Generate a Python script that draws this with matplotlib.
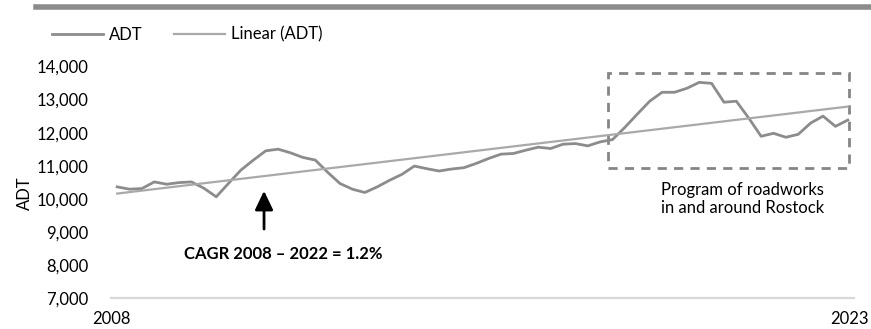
import numpy as np
import matplotlib
matplotlib.use("Agg")
import matplotlib.pyplot as plt
import matplotlib.transforms as mtrans
from matplotlib.lines import Line2D
from matplotlib.patches import Rectangle

plt.rcParams['font.family'] = ['Lato', 'DejaVu Sans']

# quarterly ADT, 2008 Q1 .. 2022 Q4
adt = [10360, 10290, 10310, 10510, 10440, 10490, 10510, 10320, 10060, 10470,
       10870, 11170, 11450, 11500, 11390, 11250, 11170, 10800, 10460, 10290,
       10190, 10360, 10560, 10740, 10990, 10910, 10840, 10900, 10940, 11070,
       11220, 11350, 11370, 11470, 11560, 11520, 11650, 11670, 11600, 11720,
       11790, 12160, 12560, 12950, 13220, 13220, 13340, 13520, 13490, 12920,
       12950, 12440, 11890, 11980, 11860, 11950, 12290, 12500, 12190, 12380]
first_year = 2008
last_year = 2023
y_ticks = [7000, 8000, 9000, 10000, 11000, 12000, 13000, 14000]

x = first_year + (np.arange(len(adt)) + 0.5) / 4
slope, intercept = np.polyfit(x, adt, 1)
trend = slope * x + intercept

fs = 12

fig = plt.figure(figsize=(8.71, 3.29), dpi=100)
ax = fig.add_axes([0.1274, 0.0942, 0.8531, 0.7037])

ax.plot(x, adt, color='#8c8c8c', lw=2.0, label='ADT', solid_joinstyle='round')
ax.plot(x, trend, color='#a9a9a9', lw=1.6, label='Linear (ADT)')

ax.set_xlim(first_year, last_year)
ax.set_ylim(7000, 14000)
ax.set_yticks(y_ticks)
ax.set_yticklabels([f"{v:,}" for v in y_ticks])
ax.set_xticks([first_year, last_year])
ax.set_xticklabels([str(first_year), str(last_year)])
ax.tick_params(axis='y', length=0, pad=16, labelsize=fs)
ax.tick_params(axis='x', length=0, pad=9, labelsize=fs)
for s in ['top', 'right', 'left']:
    ax.spines[s].set_visible(False)
ax.spines['bottom'].set_color('#d9d9d9')
ax.spines['bottom'].set_linewidth(1.6)

# keep "2023" inside the picture
last_lbl = ax.get_xticklabels()[-1]
last_lbl.set_transform(last_lbl.get_transform() +
                       mtrans.ScaledTranslation(-5 / 100, 0, fig.dpi_scale_trans))

ax.set_ylabel('ADT', fontsize=fs)
ax.yaxis.set_label_coords(-0.105, 0.454)

# roadworks box
box = Rectangle((2018.03, 10917), 2022.9 - 2018.03, 13804 - 10917, fill=False,
                edgecolor='#858585', lw=2, linestyle=(0, (3.3, 2.6)))
ax.add_patch(box)
ax.text(2020.74, 9990, 'Program of roadworks\nin and around Rostock',
        ha='center', va='center', fontsize=fs, linespacing=1.15)

# CAGR arrow + label
ax.annotate('', xy=(2011.09, 10240), xytext=(2011.09, 9084),
            arrowprops=dict(arrowstyle='-|>,head_width=0.55,head_length=1.15',
                            color='black', lw=2, shrinkA=0, shrinkB=0,
                            mutation_scale=10))
ax.text(2011.47, 8329, 'CAGR 2008 – 2022 = 1.2%', ha='center', va='center',
        fontsize=fs, fontweight='bold')

# legend
fig.legend(handles=ax.get_lines(), loc='center left',
           bbox_to_anchor=(0.0597, 0.894), ncol=2, frameon=False,
           fontsize=fs, handlelength=3.05, handletextpad=0.35,
           columnspacing=1.9, borderpad=0, borderaxespad=0)

# top rule
fig.add_artist(Line2D([0.041, 1.0], [0.979, 0.979], transform=fig.transFigure,
                      color='#8c8c8c', lw=4))

fig.savefig('out.png', dpi=100)
